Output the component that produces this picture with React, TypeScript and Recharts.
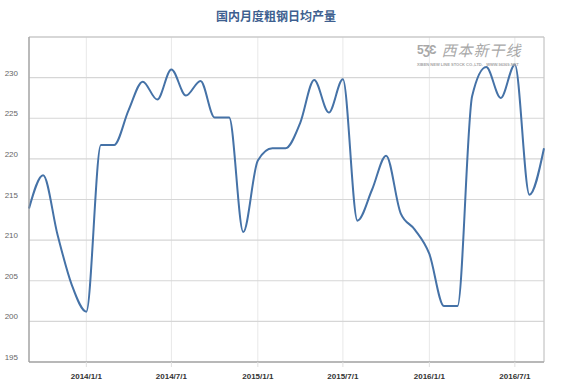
import { LineChart, Line, XAxis, YAxis, CartesianGrid, ReferenceArea } from "recharts";

const months = [
  "2013/9/1", "2013/10/1", "2013/11/1", "2013/12/1",
  "2014/1/1", "2014/2/1", "2014/3/1", "2014/4/1", "2014/5/1", "2014/6/1",
  "2014/7/1", "2014/8/1", "2014/9/1", "2014/10/1", "2014/11/1", "2014/12/1",
  "2015/1/1", "2015/2/1", "2015/3/1", "2015/4/1", "2015/5/1", "2015/6/1",
  "2015/7/1", "2015/8/1", "2015/9/1", "2015/10/1", "2015/11/1", "2015/12/1",
  "2016/1/1", "2016/2/1", "2016/3/1", "2016/4/1", "2016/5/1", "2016/6/1",
  "2016/7/1", "2016/8/1", "2016/9/1",
];

const output = [
  213.9, 218.0, 210.6, 204.5,
  201.2, 221.7, 221.7, 226.0, 229.5, 227.3,
  231.0, 227.8, 229.6, 225.1, 225.1, 211.0,
  219.8, 221.3, 221.3, 224.4, 229.7, 225.7,
  229.8, 212.4, 216.2, 220.4, 213.3, 211.3,
  208.3, 201.9, 201.9, 227.7, 231.3, 227.5,
  231.6, 215.6, 221.3,
];

const xTickLabels = ["2014/1/1", "2014/7/1", "2015/1/1", "2015/7/1", "2016/1/1", "2016/7/1"];
const yTicks = [195, 200, 205, 210, 215, 220, 225, 230];

const toTime = (s: string) => {
  const [y, m, d] = s.split("/").map(Number);
  return Date.UTC(y, m - 1, d);
};

const fmt = (t: number) => {
  const d = new Date(t);
  return `${d.getUTCFullYear()}/${d.getUTCMonth() + 1}/${d.getUTCDate()}`;
};

const data = months.map((m, i) => ({ t: toTime(m), v: output[i] }));
const xStart = toTime(months[0]);
const xEnd = toTime(months[months.length - 1]);
const xTicks = xTickLabels.map(toTime);

const FONT = '"Liberation Sans", Arial, sans-serif';

const YTick = (props: any) => {
  const { x, y, payload } = props;
  return (
    <text x={x} y={y - 2} textAnchor="end" fontSize={8} fill="#666" fontFamily={FONT}>
      {payload.value}
    </text>
  );
};

const XTick = (props: any) => {
  const { x, y, payload } = props;
  return (
    <text x={x} y={y + 10} textAnchor="middle" fontSize={8} fontWeight="bold" fill="#333" fontFamily={FONT}>
      {fmt(payload.value)}
    </text>
  );
};

export default function App() {
  return (
    <div style={{ position: "absolute", left: 0, top: 0, width: 572, height: 385, background: "#fff" }}>
      <div
        style={{
          position: "absolute",
          left: 0,
          top: 7,
          width: 552,
          textAlign: "center",
          fontFamily: '"Noto Sans CJK SC", sans-serif',
          fontSize: 12,
          fontWeight: "bold",
          color: "#3e5f8f",
        }}
      >
        国内月度粗钢日均产量
      </div>
      <LineChart width={572} height={385} data={data} margin={{ top: 37, right: 28, bottom: 0, left: 0 }}>
        <CartesianGrid horizontal={false} stroke="#e8e8e8" strokeWidth={1} />
        <CartesianGrid vertical={false} stroke="#d6d6d6" strokeWidth={1.2} />
        <ReferenceArea x1={xStart} x2={xEnd} y1={195} y2={235} fill="none" stroke="#c4c4c4" strokeWidth={1} />
        <XAxis
          dataKey="t"
          type="number"
          scale="time"
          domain={[xStart, xEnd]}
          ticks={xTicks}
          interval={0}
          height={23}
          axisLine={{ stroke: "#999" }}
          tickLine={{ stroke: "#e0e0e0" }}
          tickSize={5}
          tick={<XTick />}
        />
        <YAxis
          type="number"
          domain={[195, 235]}
          ticks={yTicks}
          interval={0}
          width={29}
          axisLine={{ stroke: "#999" }}
          tickLine={false}
          tickSize={0}
          tickMargin={11}
          tick={<YTick />}
        />
        <Line
          type="monotone"
          dataKey="v"
          stroke="#4572a7"
          strokeWidth={2}
          dot={false}
          isAnimationActive={false}
        />
      </LineChart>
      <div
        style={{
          position: "absolute",
          left: 417,
          top: 40,
          width: 128,
          height: 32,
          color: "#a8a8a8",
          pointerEvents: "none",
        }}
      >
        <div style={{ display: "flex", alignItems: "center", height: 20 }}>
          <span style={{ fontFamily: FONT, fontWeight: "bold", fontSize: 12, letterSpacing: -1, marginRight: 6 }}>
            5ƷƐ
          </span>
          <span
            style={{
              fontFamily: '"Noto Sans CJK SC", sans-serif',
              fontSize: 15,
              fontStyle: "italic",
              letterSpacing: 1,
              lineHeight: "20px",
            }}
          >
            西本新干线
          </span>
        </div>
        <div style={{ fontFamily: FONT, fontSize: 4, fontWeight: "bold", whiteSpace: "nowrap", marginTop: 2 }}>
          XIBEN NEW LINE STOCK CO.,LTD. &nbsp; WWW.96369.NET
        </div>
      </div>
    </div>
  );
}
